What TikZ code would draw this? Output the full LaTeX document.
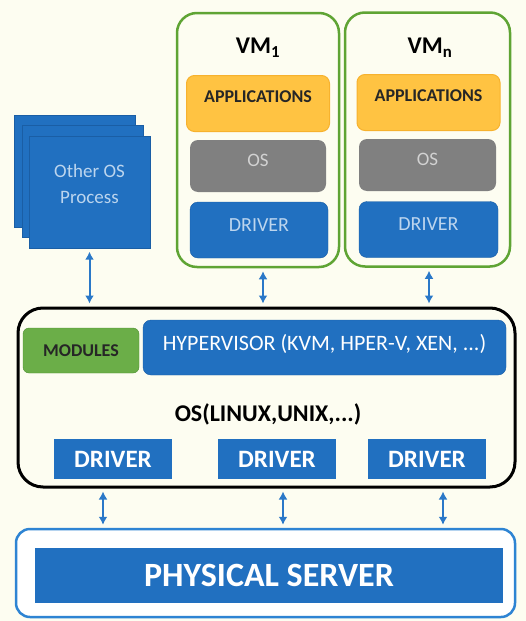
\documentclass[tikz,border=0pt]{standalone}
\usepackage{fontspec}
\setmainfont{Carlito}
\usetikzlibrary{arrows.meta, positioning}
\definecolor{crema}{HTML}{FDFDF1}
\definecolor{azul}{HTML}{2170C0}
\definecolor{azuloscuro}{HTML}{1A5EA5}
\definecolor{azultexto}{HTML}{BCD5EE}
\definecolor{azulflecha}{HTML}{2A78C8}
\definecolor{azulborde}{HTML}{2E84D3}
\definecolor{verdevm}{HTML}{5FA434}
\definecolor{verdemod}{HTML}{6BAE48}
\definecolor{verdeoscuro}{HTML}{4E8F32}
\definecolor{naranja}{HTML}{FFC342}
\definecolor{naranjaborde}{HTML}{F7B22E}
\definecolor{gris}{HTML}{808080}
\definecolor{gristexto}{HTML}{D2D2D2}

\begin{document}
\begin{tikzpicture}[
  x=1pt, y=-1pt,
  sheet/.style={rectangle, draw=azuloscuro, fill=azul, minimum width=121pt,
                minimum height=112pt, inner sep=0pt},
  vmbox/.style={rectangle, rounded corners=20pt, draw=verdevm, line width=2.5pt,
                fill=crema, minimum width=162pt, minimum height=254pt},
  apps/.style={rectangle, rounded corners=8pt, draw=naranjaborde, line width=1pt,
               fill=naranja, minimum width=143pt, minimum height=56pt, text depth=13pt,
               font=\fontsize{18}{20}\selectfont\bfseries, text=black!85},
  guestos/.style={rectangle, rounded corners=8pt, fill=gris, minimum width=136pt,
                  minimum height=52pt, text depth=12pt,
                  font=\fontsize{19}{21}\selectfont, text=gristexto},
  vmdrv/.style={rectangle, rounded corners=8pt, draw=azuloscuro, fill=azul,
                minimum width=138pt, minimum height=56pt, text depth=10pt,
                font=\fontsize{20}{22}\selectfont, text=azultexto},
  hostdrv/.style={rectangle, fill=azul, minimum width=118pt, minimum height=40pt,
                  inner sep=0pt, font=\fontsize{25}{28}\selectfont\bfseries, text=white},
  vmlbl/.style={font=\fontsize{24}{26}\selectfont\bfseries},
  arr/.style={{Latex[length=8pt,width=9pt]}-{Latex[length=8pt,width=9pt]},
              line width=2pt, azulflecha, shorten <=3pt, shorten >=3pt},
]

% --- Fondo ---
\fill[crema] (0,0) rectangle (526,621);

% --- Otros procesos del SO (pila de hojas) ---
\node[sheet] (back)  at (74.5,171.5) {};
\node[sheet] (mid)   at (82.5,181) {};
\node[sheet, align=center, text depth=17pt, text=azultexto,
      font=\fontsize{19}{26}\selectfont] (front) at (89.5,192.5) {Other OS\\Process};

% --- Máquinas virtuales ---
\node[vmbox] (vm1) at (258,140) {};
\node[vmbox, minimum width=165pt] (vmn) at (427.5,139.5) {};
\node[vmlbl] (vm1lbl) at (258,48) {VM\textsubscript{1}};
\node[vmlbl] (vmnlbl) at (430,48) {VM\textsubscript{n}};

\node[apps]    (app1) at (258,103.5) {APPLICATIONS};
\node[guestos] (os1)  at (258,166) {OS};
\node[vmdrv]   (drv1) at (259,230) {DRIVER};

\node[apps]    (appn) at (428.5,102.5) {APPLICATIONS};
\node[guestos, minimum width=137pt] (osn) at (427.5,165) {OS};
\node[vmdrv, minimum width=139pt]   (drvn) at (428.5,229.5) {DRIVER};

% --- SO anfitrión ---
\node[rectangle, rounded corners=25pt, draw=black, line width=3pt, fill=crema,
      minimum width=497pt, minimum height=179pt] (host) at (266.5,397.5) {};
\node[rectangle, rounded corners=6pt, draw=verdeoscuro, fill=verdemod,
      minimum width=116pt, minimum height=45pt, text=black!85,
      font=\fontsize{18}{20}\selectfont\bfseries] (mod) at (81,350.5) {MODULES};
\node[rectangle, rounded corners=8pt, draw=azuloscuro, fill=azul,
      minimum width=363pt, minimum height=55pt, text depth=11pt, text=white,
      font=\fontsize{22}{24}\selectfont] (hyp) at (324.5,347.5) {HYPERVISOR (KVM, HPER-V, XEN, ...)};
\node[font=\fontsize{24}{26}\selectfont\bfseries] (oslbl) at (268,414) {OS(LINUX,UNIX,...)};

\node[hostdrv] (d1) at (113,459) {DRIVER};
\node[hostdrv] (d2) at (277,459) {DRIVER};
\node[hostdrv] (d3) at (427,459) {DRIVER};

% --- Servidor físico ---
\node[rectangle, rounded corners=14pt, draw=azulborde, line width=2.5pt, fill=white,
      minimum width=499pt, minimum height=88pt] (srv) at (265.5,573) {};
\node[rectangle, fill=azul, minimum width=468pt, minimum height=55pt, text=white,
      font=\fontsize{34}{36}\selectfont\bfseries] (srvin) at (269,575.5) {PHYSICAL SERVER};

% --- Enlaces ---
\draw[arr] (front.south) -- (front.south |- host.north);
\draw[arr] ([xshift=5pt]vm1.south) -- ([xshift=5pt]vm1.south |- host.north);
\draw[arr] ([xshift=1.5pt]vmn.south) -- ([xshift=1.5pt]vmn.south |- host.north);

\draw[arr] ([xshift=-10pt]d1.south |- host.south) -- ([xshift=-10pt]d1.south |- srv.north);
\draw[arr] ([xshift=6pt]d2.south |- host.south) -- ([xshift=6pt]d2.south |- srv.north);
\draw[arr] ([xshift=16pt]d3.south |- host.south) -- ([xshift=16pt]d3.south |- srv.north);

\end{tikzpicture}
\end{document}
